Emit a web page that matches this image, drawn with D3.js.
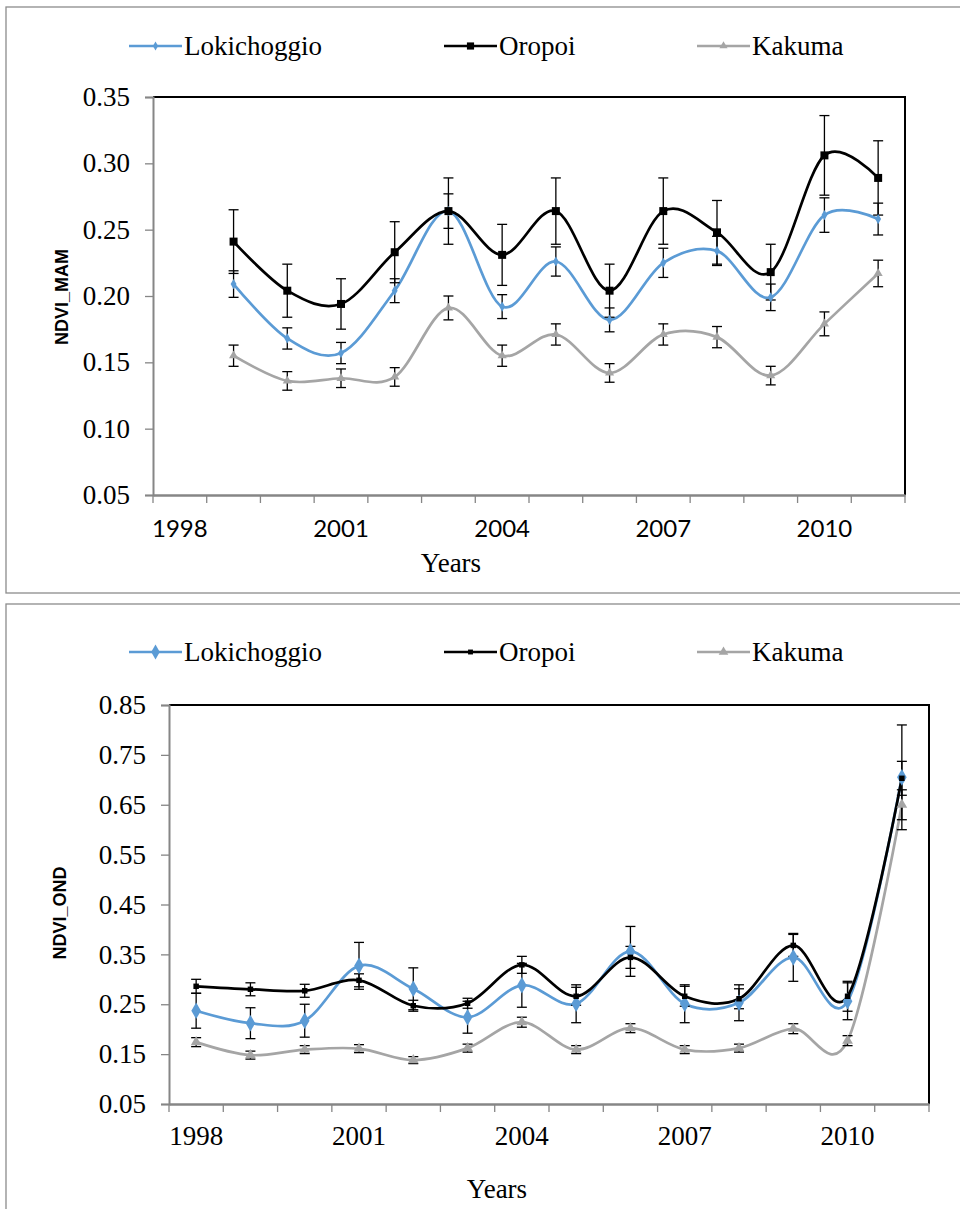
<!DOCTYPE html>
<html lang="en">
<head>
<meta charset="utf-8">
<title>NDVI MAM / OND</title>
<script src="https://d3js.org/d3.v7.js"></script>
<style>
  body { margin: 0; background: #fff; }
  svg text.serif { font-family: "Liberation Serif", serif; }
  svg text.calibri { font-family: "Lato", sans-serif; }
  svg text.bold { font-family: "Liberation Sans", sans-serif; font-weight: bold; }
</style>
</head>
<body>
<script>

// data

const years = ["1998","1999","2000","2001","2002","2003","2004","2005","2006","2007","2008","2009","2010","2011"];
const yearLabels = ["1998","2001","2004","2007","2010"];
const seriesNames = ["Lokichoggio", "Oropoi", "Kakuma"];

// MAM (top chart), no value for 1998
const lokiMAM      = [null, 0.209, 0.168, 0.157, 0.204, 0.264, 0.192, 0.226, 0.182, 0.225, 0.234, 0.199, 0.261, 0.258];
const lokiMAMErr   = [null, 0.010, 0.008, 0.008, 0.009, 0.013, 0.009, 0.011, 0.009, 0.011, 0.011, 0.010, 0.013, 0.012];
const oropoiMAM    = [null, 0.241, 0.204, 0.194, 0.233, 0.264, 0.231, 0.264, 0.204, 0.264, 0.248, 0.218, 0.306, 0.289];
const oropoiMAMErr = [null, 0.024, 0.020, 0.019, 0.023, 0.025, 0.023, 0.025, 0.020, 0.025, 0.024, 0.021, 0.030, 0.028];
const kakumaMAM    = [null, 0.155, 0.136, 0.138, 0.139, 0.191, 0.155, 0.171, 0.142, 0.171, 0.169, 0.140, 0.179, 0.217];
const kakumaMAMErr = [null, 0.008, 0.007, 0.007, 0.007, 0.009, 0.008, 0.008, 0.007, 0.008, 0.008, 0.007, 0.009, 0.010];
const ticksMAM = [0.05, 0.10, 0.15, 0.20, 0.25, 0.30, 0.35];

// OND (bottom chart)
const lokiOND      = [0.237, 0.212, 0.217, 0.327, 0.281, 0.224, 0.288, 0.251, 0.356, 0.251, 0.253, 0.344, 0.256, 0.705];
const lokiONDErr   = [0.035, 0.031, 0.033, 0.047, 0.042, 0.032, 0.044, 0.038, 0.050, 0.038, 0.036, 0.048, 0.037, 0.105];
const oropoiOND    = [0.286, 0.280, 0.277, 0.298, 0.247, 0.252, 0.329, 0.266, 0.344, 0.266, 0.261, 0.368, 0.266, 0.703];
const oropoiONDErr = [0.014, 0.013, 0.013, 0.013, 0.011, 0.010, 0.017, 0.018, 0.022, 0.020, 0.020, 0.022, 0.030, 0.034];
const kakumaOND    = [0.174, 0.148, 0.159, 0.161, 0.138, 0.162, 0.214, 0.159, 0.202, 0.159, 0.162, 0.201, 0.177, 0.650];
const kakumaONDErr = [0.009, 0.008, 0.008, 0.008, 0.007, 0.008, 0.010, 0.008, 0.009, 0.008, 0.008, 0.010, 0.010, 0.030];
const ticksOND = [0.05, 0.15, 0.25, 0.35, 0.45, 0.55, 0.65, 0.75, 0.85];

const colors = ["#5b9bd5", "#000000", "#a5a5a5"];

const svg = d3.select("body").append("svg")
    .attr("width", 960)
    .attr("height", 1209);

// one panel = frame + legend + plot
function drawPanel(opt) {
  const g = svg.append("g");

  g.append("rect")
      .attr("x", 6).attr("y", opt.frameTop)
      .attr("width", 980).attr("height", opt.frameH)
      .attr("fill", "#fff")
      .attr("stroke", "#8c8c8c")
      .attr("stroke-width", 1.3);

  const x = d3.scaleBand().domain(years).range([opt.left, opt.right]);
  const y = d3.scaleLinear().domain(opt.domain).range([opt.bottom, opt.top]);
  const cx = d => x(d) + x.bandwidth() / 2;

  // plot border: top and right in black
  g.append("path")
      .attr("d", `M${opt.left},${opt.top}H${opt.right}V${opt.bottom}`)
      .attr("fill", "none")
      .attr("stroke", "#000")
      .attr("stroke-width", 2);

  // y axis
  const yAxis = g.append("g")
      .attr("transform", `translate(${opt.left},0)`)
      .call(d3.axisLeft(y).tickValues(opt.yTicks).tickFormat(d3.format(".2f")).tickSize(8).tickPadding(15));
  yAxis.attr("font-family", null).attr("font-size", null);
  yAxis.select(".domain").attr("stroke", "#868686").attr("stroke-width", 2);
  yAxis.selectAll(".tick line").attr("stroke", "#868686").attr("stroke-width", 1.3);
  yAxis.selectAll(".tick text")
      .attr("class", "serif")
      .attr("fill", "#000")
      .style("font-size", "27px");

  // x axis: labels at category centers, ticks at category edges
  const xAxis = g.append("g")
      .attr("transform", `translate(0,${opt.bottom})`)
      .call(d3.axisBottom(x).tickValues(yearLabels).tickSize(0).tickPadding(opt.xPad));
  xAxis.attr("font-family", null).attr("font-size", null);
  xAxis.select(".domain").attr("stroke", "#868686").attr("stroke-width", 2.5);
  xAxis.selectAll(".tick text")
      .attr("class", opt.xFont)
      .attr("fill", "#000")
      .style("font-size", opt.xFontSize);
  const edges = years.map(d => x(d)).concat([opt.right]);
  xAxis.selectAll("line.edge")
    .data(edges)
    .enter().append("line")
      .attr("class", "edge")
      .attr("x1", d => d).attr("x2", d => d)
      .attr("y1", 0).attr("y2", 8)
      .attr("stroke", "#868686")
      .attr("stroke-width", 1.3);

  // axis titles
  g.append("text")
      .attr("class", "serif")
      .attr("x", opt.xTitleX).attr("y", opt.xTitleY)
      .attr("text-anchor", "middle")
      .style("font-size", "27px")
      .text("Years");

  g.append("text")
      .attr("class", "bold")
      .attr("transform", `translate(${opt.yTitleX},${opt.yTitleY}) rotate(-90)`)
      .attr("text-anchor", "middle")
      .attr("dy", "0.35em")
      .style("font-size", "18px")
      .text(opt.yTitle);

  // series
  const series = opt.series.map((s, i) => ({
    name: seriesNames[i],
    color: colors[i],
    marker: opt.markers[i],
    pts: years.map((yr, j) => ({ yr: yr, v: s.vals[j], e: s.err[j] })).filter(p => p.v != null)
  }));

  const line = d3.line()
      .x(p => cx(p.yr))
      .y(p => y(p.v))
      .curve(d3.curveCardinal);

  g.selectAll("path.series")
    .data(series)
    .enter().append("path")
      .attr("class", "series")
      .attr("d", s => line(s.pts))
      .attr("fill", "none")
      .attr("stroke", s => s.color)
      .attr("stroke-width", 2.7);

  series.forEach(s => {
    // error bars
    const eb = g.append("g").selectAll("g")
      .data(s.pts)
      .enter().append("g")
        .attr("stroke", "#000")
        .attr("stroke-width", 1.3);
    eb.append("line")
        .attr("x1", p => cx(p.yr)).attr("x2", p => cx(p.yr))
        .attr("y1", p => y(p.v - p.e)).attr("y2", p => y(p.v + p.e));
    eb.append("line")
        .attr("x1", p => cx(p.yr) - 5).attr("x2", p => cx(p.yr) + 5)
        .attr("y1", p => y(p.v + p.e)).attr("y2", p => y(p.v + p.e));
    eb.append("line")
        .attr("x1", p => cx(p.yr) - 5).attr("x2", p => cx(p.yr) + 5)
        .attr("y1", p => y(p.v - p.e)).attr("y2", p => y(p.v - p.e));
  });

  series.forEach(s => {
    g.append("g").selectAll("path")
      .data(s.pts)
      .enter().append("path")
        .attr("transform", p => `translate(${cx(p.yr)},${y(p.v)})`)
        .attr("d", d3.symbol().type(s.marker.type).size(s.marker.size))
        .attr("fill", s.color);
  });

  // legend
  const legX = [129, 444, 697];
  series.forEach((s, i) => {
    const lg = g.append("g").attr("transform", `translate(${legX[i]},${opt.legendY})`);
    lg.append("line")
        .attr("x1", 0).attr("x2", 53)
        .attr("y1", 0).attr("y2", 0)
        .attr("stroke", s.color)
        .attr("stroke-width", 2.7);
    lg.append("path")
        .attr("transform", "translate(26.5,0)")
        .attr("d", d3.symbol().type(s.marker.type).size(s.marker.size * 0.8))
        .attr("fill", s.color);
    lg.append("text")
        .attr("class", "serif")
        .attr("x", 55).attr("y", 0)
        .attr("dy", "0.33em")
        .style("font-size", "27px")
        .text(s.name);
  });
}

drawPanel({
  frameTop: 7, frameH: 586,
  left: 153, right: 905, top: 97, bottom: 495,
  domain: [0.05, 0.35], yTicks: ticksMAM,
  xFont: "calibri", xFontSize: "24px", xPad: 25,
  xTitleX: 451, xTitleY: 572,
  yTitle: "NDVI_MAM", yTitleX: 62, yTitleY: 297,
  legendY: 46,
  series: [
    { vals: lokiMAM, err: lokiMAMErr },
    { vals: oropoiMAM, err: oropoiMAMErr },
    { vals: kakumaMAM, err: kakumaMAMErr }
  ],
  markers: [
    { type: d3.symbolDiamond, size: 30 },
    { type: d3.symbolSquare, size: 64 },
    { type: d3.symbolTriangle, size: 36 }
  ]
});

drawPanel({
  frameTop: 604, frameH: 620,
  left: 169, right: 929, top: 705, bottom: 1104,
  domain: [0.05, 0.85], yTicks: ticksOND,
  xFont: "serif", xFontSize: "27px", xPad: 22,
  xTitleX: 497, xTitleY: 1198,
  yTitle: "NDVI_OND", yTitleX: 60, yTitleY: 913,
  legendY: 652,
  series: [
    { vals: lokiOND, err: lokiONDErr },
    { vals: oropoiOND, err: oropoiONDErr },
    { vals: kakumaOND, err: kakumaONDErr }
  ],
  markers: [
    { type: d3.symbolDiamond, size: 80 },
    { type: d3.symbolSquare, size: 30 },
    { type: d3.symbolTriangle, size: 50 }
  ]
});

</script>
</body>
</html>
